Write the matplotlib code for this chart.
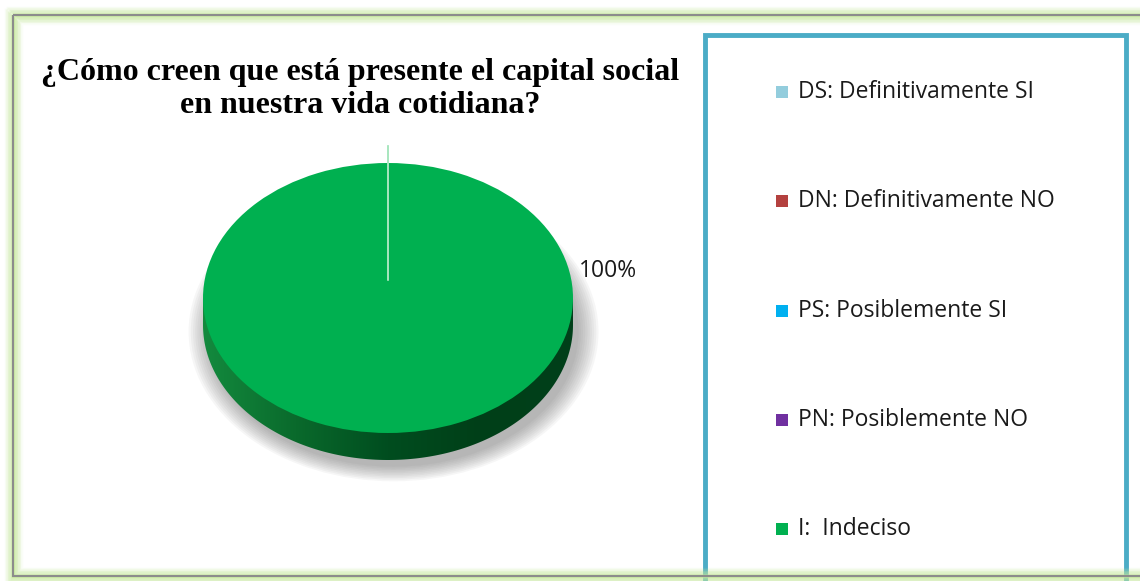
import numpy as np
import matplotlib
matplotlib.use("Agg")
import matplotlib.pyplot as plt
from matplotlib.patches import Rectangle, Ellipse, Polygon
from matplotlib.colors import LinearSegmentedColormap

# data
categories = ["DS: Definitivamente SI", "DN: Definitivamente NO", "PS: Posiblemente SI",
              "PN: Posiblemente NO", "I:  Indeciso"]
values = [0, 0, 0, 0, 100]
colors = ["#93CDDD", "#B4413F", "#00B0F0", "#7030A0", "#00B050"]
title = "¿Cómo creen que está presente el capital social\nen nuestra vida cotidiana?"

W, H = 1140, 581
fig = plt.figure(figsize=(W / 100, H / 100), dpi=100)

# background axes in pixel coordinates for frames
bg = fig.add_axes([0, 0, 1, 1])
bg.set_xlim(0, W)
bg.set_ylim(H, 0)
bg.axis("off")

# legend box (under the outer glow)
bg.add_patch(Rectangle((705, 35), 421, 560, fill=True, fc="white", ec="#4BACC6", lw=3.5, zorder=1))

# outer green glow + gray line
for k, a in enumerate(np.linspace(0.5, 0.08, 6)):
    bg.add_patch(Rectangle((13 - k * 1.5, 15 - k * 1.5), W + 40, 561 + k * 3,
                           fill=False, ec="#c5e89a", lw=2.5, alpha=a, zorder=2))
    bg.add_patch(Rectangle((13 + k * 1.5, 15 + k * 1.5), W + 40, 561 - k * 3,
                           fill=False, ec="#c5e89a", lw=2.5, alpha=a, zorder=2))
bg.add_patch(Rectangle((13, 15), W + 40, 561, fill=False, ec="#8c8c8c", lw=1.5, zorder=2))

# legend entries
leg_y = [92, 201, 311, 420, 529]
for cat, col, y in zip(categories, colors, leg_y):
    bg.add_patch(Rectangle((776, y - 6), 12, 12, fc=col, ec="none", zorder=4))
    bg.text(798, y, cat, fontsize=16.5, family="Open Sans", va="center", ha="left",
            color="#1a1a1a", zorder=4)

# title
bg.text(360, 89, title, fontsize=23, family="Liberation Serif", weight="bold",
        ha="center", va="center", linespacing=1.15, zorder=4)

# pie axes (elliptical because aspect is auto)
cx, cy, rx, ry = 388, 298, 185, 135
x0, x1, y0, y1 = 150, 660, 120, 500
pax = fig.add_axes([x0 / W, 1 - y1 / H, (x1 - x0) / W, (y1 - y0) / H])
pax.patch.set_alpha(0)
depth = 0.2

# soft shadow
for k in range(10):
    s = 1.0 + 0.012 * k
    pax.add_patch(Ellipse((0.03, -depth - 0.05), 2 * s, 2 * s, fc="#555555",
                          ec="none", alpha=0.05, zorder=1))

# side of the disc with gradient
t = np.linspace(np.pi, 2 * np.pi, 200)
side = np.column_stack([np.cos(t), np.sin(t) - depth])
side = np.vstack([side, [[1, 0], [-1, 0]]])
clip = Polygon(side, closed=True, fc="none", ec="none", transform=pax.transData)
pax.add_patch(clip)
side_cmap = LinearSegmentedColormap.from_list(
    "side", ["#138a3e", "#0a6a2c", "#004d1f", "#003f18", "#00401a"])
grad = np.linspace(0, 1, 256)[None, :]
im = pax.imshow(grad, cmap=side_cmap, extent=(-1, 1, -1 - depth, 0),
                aspect="auto", zorder=2, interpolation="bilinear")
im.set_clip_path(clip)

# top face
wedges, _ = pax.pie(values, colors=colors, startangle=90, counterclock=False,
                    explode=[0.13 if v == 0 else 0 for v in values],
                    radius=1.0, frame=True, wedgeprops=dict(lw=0))
for w, v in zip(wedges, values):
    w.set_zorder(3)
    if v == 0:
        w.set_edgecolor("#a8e6bf")
        w.set_linewidth(1.2)
        w.set_alpha(0.8)
        w.set_zorder(4)

total = sum(values)
for v in values:
    if v > 0:
        pax.text(1.03, 0.2, f"{v / total:.0%}", fontsize=16.5, family="Open Sans",
                 ha="left", va="center", color="#1a1a1a")

pax.set_aspect("auto")
pax.set_xlim((x0 - cx) / rx, (x1 - cx) / rx)
pax.set_ylim(-(y1 - cy) / ry, (cy - y0) / ry)
pax.axis("off")

fig.savefig("out.png", dpi=100)
